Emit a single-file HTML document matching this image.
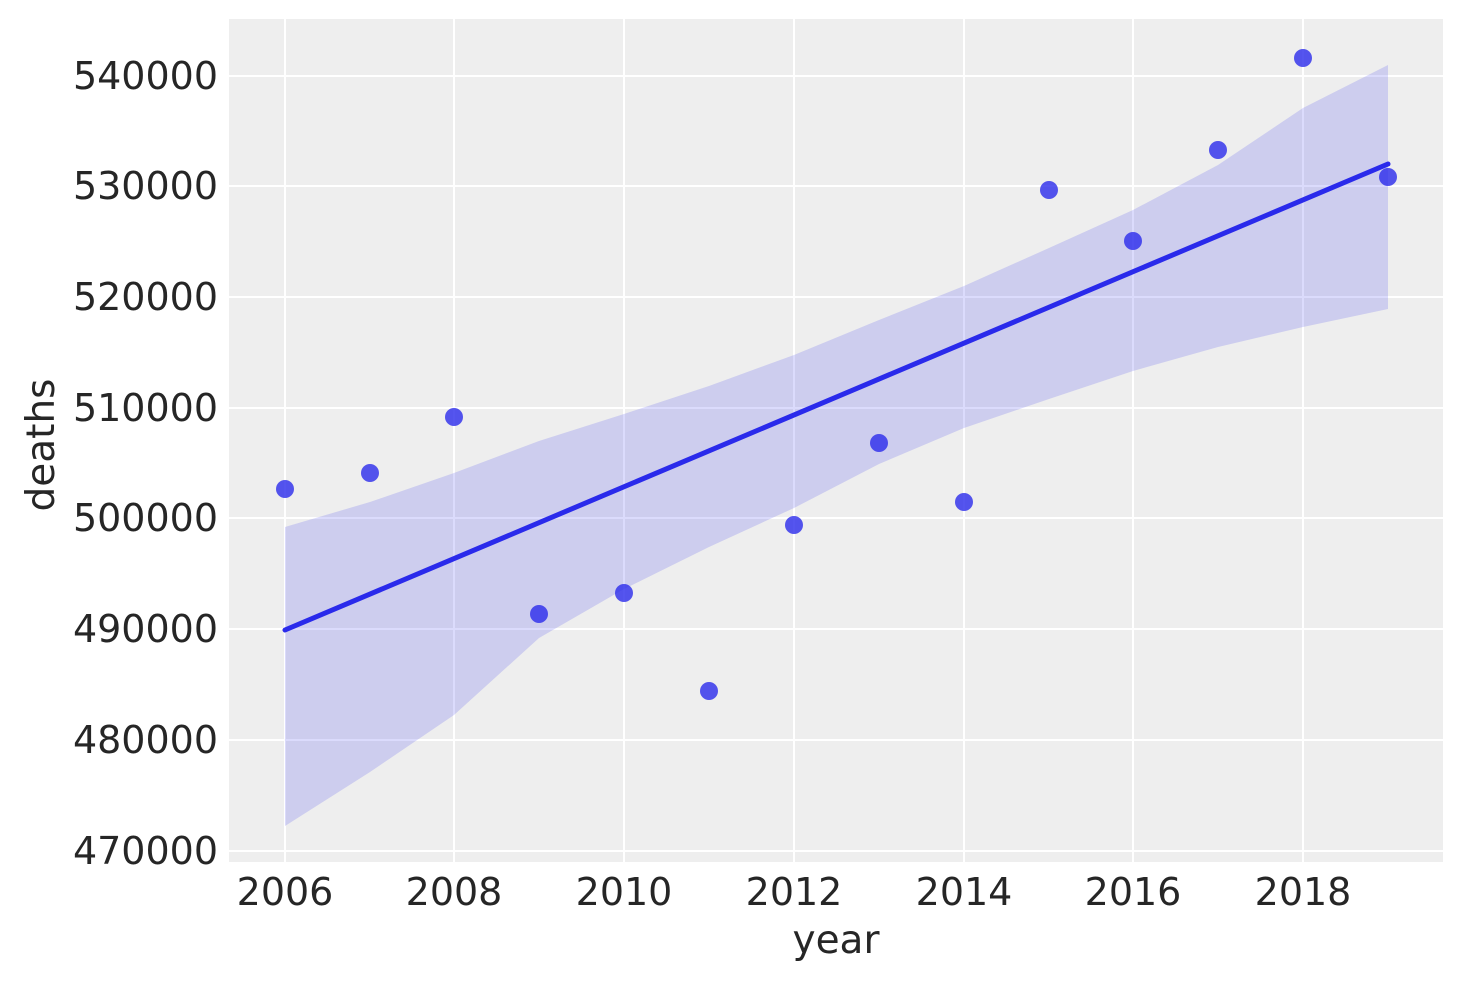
<!DOCTYPE html>
<html><head><meta charset="utf-8"><style>
html,body{margin:0;padding:0;background:#fff;}
svg text{font-family:"DejaVu Sans","Liberation Sans",sans-serif;fill:#262626;}
</style></head><body>
<svg width="1463" height="983" viewBox="0 0 1463 983" xmlns="http://www.w3.org/2000/svg">
<rect x="229" y="19" width="1214" height="843" fill="#eeeeee"/>
<g stroke="#ffffff" stroke-width="2">
<line x1="285" y1="19" x2="285" y2="862"/><line x1="454" y1="19" x2="454" y2="862"/>
<line x1="624" y1="19" x2="624" y2="862"/><line x1="794" y1="19" x2="794" y2="862"/>
<line x1="964" y1="19" x2="964" y2="862"/><line x1="1133" y1="19" x2="1133" y2="862"/>
<line x1="1303" y1="19" x2="1303" y2="862"/>
<line x1="229" y1="76" x2="1443" y2="76"/><line x1="229" y1="186" x2="1443" y2="186"/>
<line x1="229" y1="297" x2="1443" y2="297"/><line x1="229" y1="408" x2="1443" y2="408"/>
<line x1="229" y1="518" x2="1443" y2="518"/><line x1="229" y1="629" x2="1443" y2="629"/>
<line x1="229" y1="740" x2="1443" y2="740"/><line x1="229" y1="851" x2="1443" y2="851"/>
</g>
<polygon fill="#2a2aeb" fill-opacity="0.17" points="285,527 370,502 454,473 539,441 624,414 709,386 794,355 879,320 964,286 1049,248 1133,210 1218,165 1303,108 1388,65 1388,309 1303,327 1218,347 1133,371 1049,399 964,428 879,464 794,508 709,547 624,589 539,638 454,715 370,772 285,826"/>
<line x1="285" y1="630" x2="1388" y2="164" stroke="#2a2aeb" stroke-width="5" stroke-linecap="round"/>
<g fill="#2a2aeb" fill-opacity="0.8">
<circle cx="285" cy="489" r="9"/><circle cx="370" cy="473" r="9"/><circle cx="454" cy="417" r="9"/>
<circle cx="539" cy="614" r="9"/><circle cx="624" cy="593" r="9"/><circle cx="709" cy="691" r="9"/>
<circle cx="794" cy="525" r="9"/><circle cx="879" cy="443" r="9"/><circle cx="964" cy="502" r="9"/>
<circle cx="1049" cy="190" r="9"/><circle cx="1133" cy="241" r="9"/><circle cx="1218" cy="150" r="9"/>
<circle cx="1303" cy="58" r="9"/><circle cx="1388" cy="177" r="9"/>
</g>
<g font-size="38" text-anchor="middle">
<text x="285" y="905">2006</text><text x="454" y="905">2008</text><text x="624" y="905">2010</text>
<text x="794" y="905">2012</text><text x="964" y="905">2014</text><text x="1133" y="905">2016</text>
<text x="1303" y="905">2018</text>
</g>
<g font-size="38" text-anchor="end">
<text x="218" y="89">540000</text><text x="218" y="199">530000</text><text x="218" y="310">520000</text>
<text x="218" y="421">510000</text><text x="218" y="531">500000</text><text x="218" y="642">490000</text>
<text x="218" y="753">480000</text><text x="218" y="864">470000</text>
</g>
<text x="836" y="953" font-size="39" text-anchor="middle">year</text>
<text transform="translate(54,445) rotate(-90)" font-size="39" text-anchor="middle">deaths</text>
</svg>
</body></html>
